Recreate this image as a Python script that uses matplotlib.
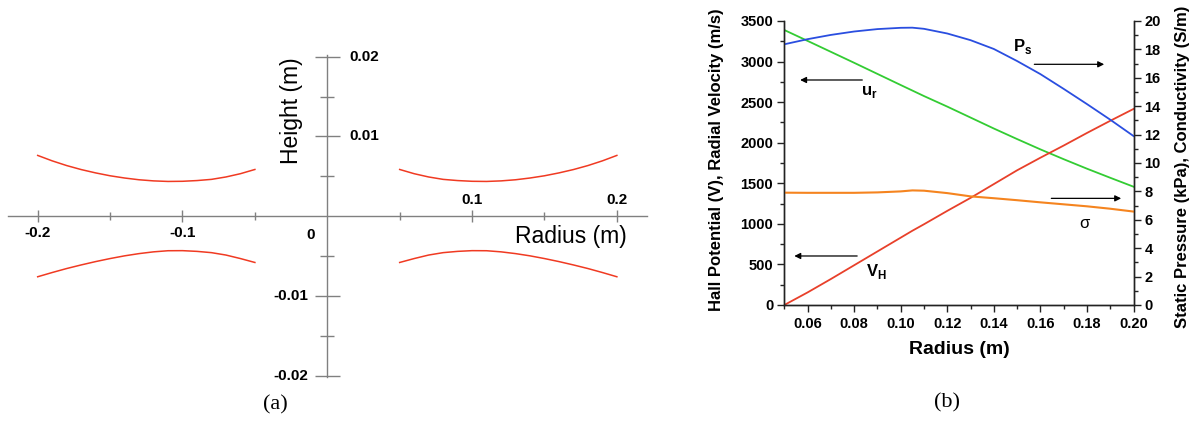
import matplotlib
matplotlib.use("Agg")
import matplotlib.pyplot as plt
from matplotlib.ticker import FixedLocator, MultipleLocator

plt.rcParams['font.family'] = ['Liberation Sans', 'DejaVu Sans']
plt.rcParams['mathtext.fontset'] = 'custom'
plt.rcParams['mathtext.rm'] = 'Liberation Sans'
plt.rcParams['mathtext.bf'] = 'Liberation Sans:bold'

# ---------------- data: panel (a) ----------------
r_half = [0.05, 0.06, 0.07, 0.08, 0.09, 0.10, 0.11, 0.12, 0.13, 0.14, 0.15, 0.16, 0.17, 0.18, 0.19, 0.20]
h_upper = [0.00586, 0.00533, 0.00492, 0.00462, 0.00447, 0.00438, 0.00436, 0.00443, 0.00457, 0.00479,
           0.00507, 0.00543, 0.00585, 0.00635, 0.00694, 0.00762]
h_lower = [-0.00579, -0.00530, -0.00486, -0.00456, -0.00440, -0.00431, -0.00432, -0.00446, -0.00468, -0.00496,
           -0.00530, -0.00568, -0.00610, -0.00655, -0.00705, -0.00758]
a_xticks_major = [-0.2, -0.1, 0.1, 0.2]
a_xticks_minor = [-0.15, -0.05, 0.05, 0.15]
a_yticks_major = [-0.02, -0.01, 0.01, 0.02]
a_yticks_minor = [-0.015, -0.005, 0.005, 0.015]
a_xlabels = ['-0.2', '-0.1', '0.1', '0.2']
a_ylabels = ['-0.02', '-0.01', '0.01', '0.02']

# ---------------- data: panel (b) ----------------
radius = [0.05, 0.06, 0.07, 0.08, 0.09, 0.10, 0.105, 0.11, 0.12, 0.13, 0.14, 0.15, 0.16, 0.17, 0.18, 0.19, 0.20]
p_static = [18.36, 18.72, 19.02, 19.26, 19.43, 19.52, 19.53, 19.45, 19.12, 18.65, 18.03, 17.18, 16.26, 15.22, 14.15, 13.05, 11.9]
u_radial = [3389, 3255, 3120, 2985, 2848, 2711, 2643, 2575, 2445, 2310, 2175, 2045, 1918, 1797, 1680, 1568, 1458]
v_hall = [0, 155, 320, 490, 660, 830, 915, 995, 1160, 1320, 1490, 1660, 1815, 1965, 2120, 2270, 2416]
sigma = [7.91, 7.9, 7.9, 7.9, 7.93, 8.0, 8.07, 8.05, 7.88, 7.65, 7.52, 7.38, 7.23, 7.09, 6.95, 6.78, 6.58]

W, H = 1194, 422
fig = plt.figure(figsize=(W / 100, H / 100), dpi=100)

def rect(x0, y0, x1, y1):
    # pixel box (top-left origin) -> figure fraction
    return [x0 / W, 1 - y1 / H, (x1 - x0) / W, (y1 - y0) / H]

# ================= panel (a) =================
grey = '#808080'
red_a = '#f03a22'
axa = fig.add_axes(rect(8.3, 55, 646.7, 376.7))
axa.set_xlim(-0.2203, 0.2206)
axa.set_ylim(-0.0201, 0.0202)
for s in ['top', 'right']:
    axa.spines[s].set_visible(False)
for s in ['left', 'bottom']:
    axa.spines[s].set_position(('data', 0))
    axa.spines[s].set_color(grey)
    axa.spines[s].set_linewidth(1.0)
axa.xaxis.set_major_locator(FixedLocator(a_xticks_major))
axa.xaxis.set_minor_locator(FixedLocator(a_xticks_minor))
axa.yaxis.set_major_locator(FixedLocator(a_yticks_major))
axa.yaxis.set_minor_locator(FixedLocator(a_yticks_minor))
axa.tick_params(axis='x', which='major', direction='inout', length=9, color=grey, width=1, labelbottom=False)
axa.tick_params(axis='x', which='minor', direction='inout', length=6, color=grey, width=1, labelbottom=False)
axa.tick_params(axis='y', which='major', direction='inout', length=18, color=grey, width=1, labelleft=False)
axa.tick_params(axis='y', which='minor', direction='inout', length=10, color=grey, width=1, labelleft=False)
axa.patch.set_visible(False)

neg_r = [-v for v in r_half]
for xs in (r_half, neg_r):
    axa.plot(xs, h_upper, color=red_a, lw=1.1)
    axa.plot(xs, h_lower, color=red_a, lw=1.1)

tkw = dict(fontsize=11, fontweight='bold', color='black')
for v, lab in zip(a_xticks_major, a_xlabels):
    dy = 16 if v > 0 else -17
    axa.annotate(lab, xy=(v, 0), xytext=(0, dy), textcoords='offset pixels',
                 ha='center', va='center', **tkw)
for v, lab in zip(a_yticks_major, a_ylabels):
    if v > 0:
        axa.annotate(lab, xy=(0, v), xytext=(22, 0), textcoords='offset pixels',
                     ha='left', va='center', **tkw)
    else:
        axa.annotate(lab, xy=(0, v), xytext=(-19, 0), textcoords='offset pixels',
                     ha='right', va='center', **tkw)
axa.annotate('0', xy=(0, 0), xytext=(-16.6, -19), textcoords='offset pixels',
             ha='center', va='center', **tkw)

fig.text(291.5 / W, 1 - 110.5 / H, 'Height (m)', rotation=90, ha='center', va='center', fontsize=16.5)
fig.text(570.8 / W, 1 - 236.7 / H, 'Radius (m)', ha='center', va='center', fontsize=16.5)
fig.text(275.5 / W, 1 - 405 / H, '(a)', ha='center', va='center', fontsize=16, family='Liberation Serif')

# ================= panel (b) =================
axb = fig.add_axes(rect(784.3, 21, 1133.5, 305))
axb.set_xlim(0.05, 0.20)
axb.set_ylim(0, 3500)
axr = axb.twinx()
axr.set_ylim(0, 20)

for ax in (axb, axr):
    ax.spines['top'].set_visible(False)
    for s in ax.spines.values():
        s.set_linewidth(1.0)
        s.set_color('#222222')

axb.set_xticks([0.06, 0.08, 0.10, 0.12, 0.14, 0.16, 0.18, 0.20])
axb.set_xticklabels(['0.06', '0.08', '0.10', '0.12', '0.14', '0.16', '0.18', '0.20'])
axb.xaxis.set_minor_locator(MultipleLocator(0.01))
axb.yaxis.set_major_locator(MultipleLocator(500))
axb.yaxis.set_minor_locator(MultipleLocator(250))
axr.yaxis.set_major_locator(MultipleLocator(2))
axr.yaxis.set_minor_locator(MultipleLocator(1))
for ax in (axb, axr):
    ax.tick_params(which='major', direction='out', length=5, width=1, color='#222222', labelsize=10.5, pad=3)
    ax.tick_params(which='minor', direction='out', length=3, width=1, color='#222222')
axb.tick_params(axis='x', pad=4)
for lab in axb.get_xticklabels() + axb.get_yticklabels() + axr.get_yticklabels():
    lab.set_fontweight('bold')

blue = '#2a4ee0'
green = '#33cc33'
red_b = '#e8402a'
orange = '#f5841f'
axb.plot(radius, u_radial, color=green, lw=1.3)
axb.plot(radius, v_hall, color=red_b, lw=1.3)
axr.plot(radius, p_static, color=blue, lw=1.3)
axr.plot(radius, sigma, color=orange, lw=1.5)

arw = dict(arrowstyle='-|>', color='black', lw=0.9, mutation_scale=9, shrinkA=0, shrinkB=0)
axr.annotate('', xy=(0.1874, 16.95), xytext=(0.1574, 16.95), arrowprops=arw)
axb.annotate('', xy=(0.0568, 2773), xytext=(0.0835, 2773), arrowprops=arw)
axr.annotate('', xy=(0.1947, 7.51), xytext=(0.1647, 7.51), arrowprops=arw)
axb.annotate('', xy=(0.0543, 604), xytext=(0.0813, 604), arrowprops=arw)

lkw = dict(ha='center', va='center', fontsize=12)
axr.text(0.1525, 18.19, r'$\mathbf{P}_{\mathbf{s}}$', **lkw)
axb.text(0.0865, 2620, r'$\mathbf{u}_{\mathbf{r}}$', **lkw)
axr.text(0.1789, 5.77, 'σ', ha='center', va='center', fontsize=12)
axb.text(0.0895, 415, r'$\mathbf{V}_{\mathbf{H}}$', **lkw)

fig.text(716.7 / W, 1 - 159.5 / H, 'Hall Potential (V), Radial Velocity (m/s)',
         rotation=90, ha='center', va='center', fontsize=12, fontweight='bold')
fig.text(1182 / W, 1 - 166.5 / H, 'Static Pressure (kPa), Conductivity (S/m)',
         rotation=90, ha='center', va='center', fontsize=12, fontweight='bold')
fig.text(959 / W, 1 - 350 / H, 'Radius (m)', ha='center', va='center', fontsize=14, fontweight='bold')
fig.text(947.3 / W, 1 - 403.3 / H, '(b)', ha='center', va='center', fontsize=16, family='Liberation Serif')

fig.savefig('out.png', dpi=100)
